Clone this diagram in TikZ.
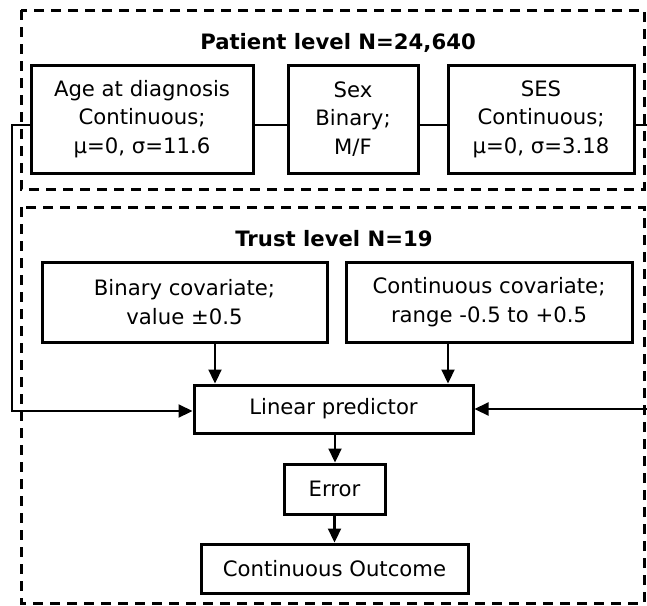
\documentclass[tikz,border=0pt]{standalone}
\usepackage{fontspec}
\setmainfont{DejaVu Sans}
\usetikzlibrary{arrows.meta}
\begin{document}
\begin{tikzpicture}[x=1pt,y=-1pt,
  every node/.style={font=\fontsize{21.2}{28.5}\selectfont},
  boxn/.style={draw,line width=3pt,rectangle,inner sep=0pt,align=center},
  group/.style={draw,line width=3pt,dash pattern=on 10pt off 7pt},
  conn/.style={line width=2.2pt},
  arr/.style={line width=2.2pt,-{Triangle[length=14pt,width=13pt]}},
  ttl/.style={font=\fontsize{21.2}{24}\selectfont\bfseries}]
\useasboundingbox (0,0) rectangle (647,605);
\draw[group] (21,10) rectangle (644,189);
\draw[group] (21,207) rectangle (644,603);
\node[ttl] (pt) at (338,43) {Patient level N=24,640};
\node[ttl] (tt) at (334,239) {Trust level N=19};
\node[boxn,minimum width=222pt,minimum height=108pt] (age) at (142,119) {Age at diagnosis\\Continuous;\\μ=0, σ=11.6};
\node[boxn,minimum width=130pt,minimum height=108pt] (sex) at (353,119) {Sex\\Binary;\\M/F};
\node[boxn,minimum width=186pt,minimum height=108pt] (ses) at (541,119) {SES\\Continuous;\\μ=0, σ=3.18};
\node[boxn,minimum width=285pt,minimum height=80pt] (bin) at (184.5,302) {Binary covariate;\\value ±0.5};
\node[boxn,minimum width=286pt,minimum height=80pt] (cc) at (489,302) {Continuous covariate;\\range -0.5 to +0.5};
\node[boxn,minimum width=279pt,minimum height=48pt] (lp) at (333.5,409) {Linear predictor};
\node[boxn,minimum width=101pt,minimum height=50pt] (err) at (334.5,489) {Error};
\node[boxn,minimum width=267pt,minimum height=49pt] (out) at (334.5,568.5) {Continuous Outcome};
\coordinate (l1) at (12,125);
\coordinate (l2) at (12,411);
\coordinate (r1) at (647,125);
\coordinate (r2) at (647,409);
\draw[conn] ([yshift=-6pt]age.east) -- ([yshift=-6pt]sex.west);
\draw[conn] ([yshift=-6pt]sex.east) -- ([yshift=-6pt]ses.west);
\draw[conn] ([yshift=-6pt]ses.east) -- (r1);
\draw[arr] ([yshift=-6pt]age.west) -- (l1) -- (l2) -- ([yshift=-2pt]lp.west);
\draw[arr] (r2) -- (lp.east);
\draw[arr] ([xshift=30.5pt]bin.south) -- ([xshift=30.5pt]bin.south |- lp.north);
\draw[arr] ([xshift=-41pt]cc.south) -- ([xshift=-41pt]cc.south |- lp.north);
\draw[arr] ([xshift=1.5pt]lp.south) -- ([xshift=1.5pt]lp.south |- err.north);
\draw[arr] (err.south) -- (err.south |- out.north);
\end{tikzpicture}
\end{document}
